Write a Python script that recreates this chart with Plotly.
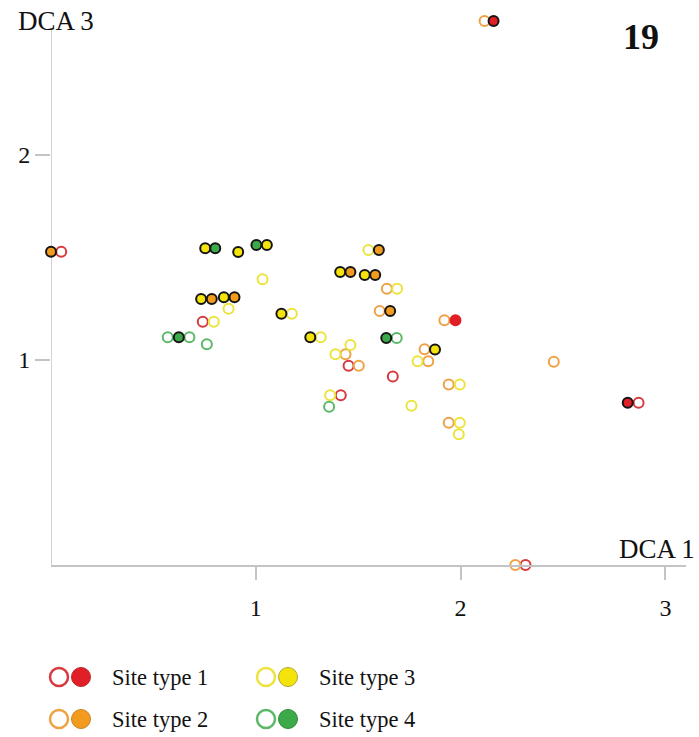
import plotly.graph_objects as go

# ---------------- data (DCA 1, DCA 3) ----------------
t1_open_x = [0.050, 0.741, 1.453, 1.669, 1.415, 2.869, 2.317]
t1_open_y = [1.528, 1.187, 0.972, 0.920, 0.828, 0.792, 0.0]
t1_fill_x = [1.975, 2.161, 2.816]
t1_fill_y = [1.194, 2.654, 0.792]

t2_open_x = [1.640, 1.605, 1.921, 1.438, 1.503, 1.824, 1.842, 1.942, 1.942, 2.455, 2.117, 2.267]
t2_open_y = [1.348, 1.239, 1.194, 1.028, 0.972, 1.052, 0.994, 0.881, 0.694, 0.992, 2.654, 0.0]
t2_fill_x = [0.0, 0.785, 0.896, 1.601, 1.462, 1.583, 1.656]
t2_fill_y = [1.528, 1.298, 1.306, 1.537, 1.429, 1.415, 1.239]

t3_open_x = [1.033, 0.867, 0.795, 1.550, 1.690, 1.176, 1.317, 1.462, 1.389, 1.790, 1.996, 1.363, 1.760, 1.996, 1.991]
t3_open_y = [1.394, 1.250, 1.187, 1.537, 1.348, 1.226, 1.111, 1.073, 1.028, 0.994, 0.881, 0.828, 0.777, 0.694, 0.638]
t3_fill_x = [0.753, 0.914, 1.054, 0.733, 0.844, 1.125, 1.266, 1.412, 1.532, 1.875]
t3_fill_y = [1.545, 1.527, 1.561, 1.298, 1.306, 1.226, 1.111, 1.429, 1.415, 1.051]

t4_open_x = [0.570, 0.676, 0.761, 1.688, 1.358]
t4_open_y = [1.111, 1.111, 1.077, 1.107, 0.772]
t4_fill_x = [0.802, 1.003, 0.624, 1.637]
t4_fill_y = [1.545, 1.561, 1.111, 1.107]

legend_labels = ["Site type 1", "Site type 2", "Site type 3", "Site type 4"]
x_ticks = [1, 2, 3]
y_ticks = [1, 2]
y_axis_top = 2.61  # extent of drawn DCA 3 axis line

# ---------------- styles ----------------
ring_col = ["#d8393e", "#efa244", "#ece43c", "#5cb868"]
fill_col = ["#e11f27", "#f39b1e", "#f4e40c", "#3caa49"]
legend_edge = ["#b8262c", "#c88420", "#b0a830", "#2e8a3a"]
AXIS_COL = "#c4c4c4"
SERIF = "Liberation Serif, Times New Roman, serif"
W, H = 699, 737
pl, pr, pt, pb = 51, 686, 10, 565  # plot area in pixels

series = [
    (t1_open_x, t1_open_y, t1_fill_x, t1_fill_y),
    (t2_open_x, t2_open_y, t2_fill_x, t2_fill_y),
    (t3_open_x, t3_open_y, t3_fill_x, t3_fill_y),
    (t4_open_x, t4_open_y, t4_fill_x, t4_fill_y),
]

fig = go.Figure()

# open circles first
for i, (ox, oy, fx, fy) in enumerate(series):
    fig.add_trace(go.Scatter(
        x=ox, y=oy, mode="markers", cliponaxis=False, showlegend=False,
        marker=dict(size=10, color="white", line=dict(color=ring_col[i], width=2)),
    ))
# filled circles
for i, (ox, oy, fx, fy) in enumerate(series):
    edges = ["#151515"] * len(fx)
    if i == 0:
        edges[0] = fill_col[0]
    fig.add_trace(go.Scatter(
        x=fx, y=fy, mode="markers", cliponaxis=False, showlegend=False,
        marker=dict(size=10, color=fill_col[i], line=dict(color=edges, width=2)),
    ))

# ---------------- legend drawn on an overlay axis (pixel units) ----------------
for k, lab in enumerate(legend_labels):
    col, row = k // 2, k % 2
    x0 = 59 + col * 207
    y0 = 677 + row * 42
    fig.add_trace(go.Scatter(
        x=[x0], y=[y0], xaxis="x2", yaxis="y2", mode="markers", showlegend=False,
        marker=dict(size=18, color="white", line=dict(color=ring_col[k], width=2.5)),
    ))
    fig.add_trace(go.Scatter(
        x=[x0 + 22], y=[y0], xaxis="x2", yaxis="y2", mode="markers", showlegend=False,
        marker=dict(size=19, color=fill_col[k], line=dict(color=legend_edge[k], width=1)),
    ))
    fig.add_annotation(x=x0 + 51, y=y0, xref="x2", yref="y2", text=lab,
                       showarrow=False, xanchor="left", yanchor="middle",
                       font=dict(family=SERIF, size=22.5, color="#111"))

fig.update_layout(
    width=W, height=H,
    margin=dict(l=0, r=0, t=0, b=0, autoexpand=False),
    paper_bgcolor="white", plot_bgcolor="rgba(0,0,0,0)",
    xaxis=dict(domain=[pl / W, pr / W], range=[0, (pr - pl) / 204.8],
               showgrid=False, zeroline=False, showline=True, linecolor=AXIS_COL, linewidth=1.5,
               ticks="outside", ticklen=13, tickcolor=AXIS_COL, tickwidth=1.5,
               tickvals=x_ticks, ticktext=[str(v) for v in x_ticks],
               ticklabelstandoff=7, anchor="y",
               tickfont=dict(family=SERIF, size=24, color="#111")),
    yaxis=dict(domain=[1 - pb / H, 1 - pt / H], range=[0, (pb - pt) / 205.0],
               showgrid=False, zeroline=False, showline=False,
               ticks="outside", ticklen=15, tickcolor=AXIS_COL, tickwidth=1.5,
               tickvals=y_ticks, ticktext=[str(v) for v in y_ticks],
               ticklabelstandoff=0, anchor="x",
               tickfont=dict(family=SERIF, size=24, color="#111")),
    xaxis2=dict(domain=[0, 1], range=[0, W], visible=False, anchor="y2"),
    yaxis2=dict(domain=[0, 1], range=[H, 0], visible=False, anchor="x2"),
)

# DCA 3 axis line (stops short of the top outlier)
fig.add_shape(type="line", xref="x", yref="y", x0=0, x1=0, y0=0, y1=y_axis_top,
              line=dict(color=AXIS_COL, width=1.5), layer="below")

# axis titles and panel number
fig.add_annotation(x=16 / W, y=1 - 21 / H, xref="paper", yref="paper", text="DCA 3",
                   showarrow=False, xanchor="left", yanchor="middle",
                   font=dict(family=SERIF, size=27, color="#111"))
fig.add_annotation(x=697 / W, y=1 - 549 / H, xref="paper", yref="paper", text="DCA 1",
                   showarrow=False, xanchor="right", yanchor="middle",
                   font=dict(family=SERIF, size=27, color="#111"))
fig.add_annotation(x=641 / W, y=1 - 37 / H, xref="paper", yref="paper", text="<b>19</b>",
                   showarrow=False, xanchor="center", yanchor="middle",
                   font=dict(family=SERIF, size=36, color="#111"))

fig.write_html("out.html")
